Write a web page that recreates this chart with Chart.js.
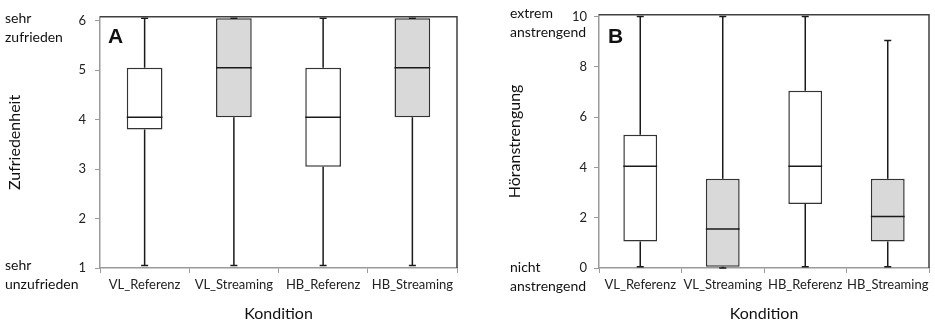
<!DOCTYPE html>
<html>
<head>
<meta charset="utf-8">
<script src="https://cdn.jsdelivr.net/npm/chart.js@4.4.1/dist/chart.umd.min.js"></script>
<style>
  body { margin: 0; background: #fff; }
  #wrap { position: relative; width: 935px; height: 326px; font-family: Lato, "Open Sans", sans-serif; color: #111; }
  .panel { position: absolute; top: 0; height: 326px; }
  .note { position: absolute; font-size: 14px; line-height: 19px; white-space: nowrap; }
  .letter { position: absolute; font-family: "Liberation Sans", Arial, sans-serif; font-weight: bold; font-size: 21px; line-height: 21px; }
</style>
</head>
<body>
<div id="wrap">
  <div class="panel" style="left:0;width:470px"><canvas id="chartA" width="470" height="326"></canvas></div>
  <div class="panel" style="left:470px;width:465px"><canvas id="chartB" width="465" height="326"></canvas></div>
  <div class="note" style="left:5px;top:8px">sehr<br>zufrieden</div>
  <div class="note" style="left:5px;top:255px">sehr<br>unzufrieden</div>
  <div class="note" style="left:510px;top:3px">extrem<br>anstrengend</div>
  <div class="note" style="left:510px;top:257px">nicht<br>anstrengend</div>
  <div class="letter" style="left:108px;top:25px">A</div>
  <div class="letter" style="left:608px;top:25px">B</div>
</div>
<script>
// Daten
const categories = ['VL_Referenz', 'VL_Streaming', 'HB_Referenz', 'HB_Streaming'];

// A: Zufriedenheit
const zufMin    = [1.05, 1.05, 1.05, 1.05];
const zufQ1     = [3.8, 4.05, 3.05, 4.05];
const zufMedian = [4.05, 5.05, 4.05, 5.05];
const zufQ3     = [5.05, 6.05, 5.05, 6.05];
const zufMax    = [6.05, 6.05, 6.05, 6.05];
const zufTicks  = [1, 2, 3, 4, 5, 6];

// B: Höranstrengung
const hoerMin    = [0.05, 0.0, 0.05, 0.05];
const hoerQ1     = [1.05, 0.05, 2.55, 1.05];
const hoerMedian = [4.05, 1.55, 4.05, 2.05];
const hoerQ3     = [5.3, 3.55, 7.05, 3.55];
const hoerMax    = [10.0, 10.0, 10.0, 9.05];
const hoerTicks  = [0, 2, 4, 6, 8, 10];

const boxFills = ['#ffffff', '#d9d9d9', '#ffffff', '#d9d9d9'];
const tickFont = { family: 'Lato', size: 13 };
const titleFont = { family: 'Lato', size: 16 };

// Whisker, Median und Rahmen
const boxPlugin = {
    id: 'boxWhiskers',
    afterDatasetsDraw(chart) {
        const stats = chart.options.plugins.boxWhiskers;
        const x = chart.scales.x;
        const y = chart.scales.y;
        const meta = chart.getDatasetMeta(0);
        const ctx = chart.ctx;
        ctx.save();
        ctx.strokeStyle = '#1a1a1a';
        ctx.lineWidth = 1.5;
        meta.data.forEach((bar, i) => {
            const cx = x.getPixelForValue(i);
            const half = bar.width / 2;
            const yMin = y.getPixelForValue(stats.min[i]);
            const yMax = y.getPixelForValue(stats.max[i]);
            const yQ1 = y.getPixelForValue(stats.q1[i]);
            const yQ3 = y.getPixelForValue(stats.q3[i]);
            const yMed = y.getPixelForValue(stats.median[i]);
            ctx.beginPath();
            ctx.moveTo(cx, yQ3); ctx.lineTo(cx, yMax);
            ctx.moveTo(cx, yQ1); ctx.lineTo(cx, yMin);
            ctx.moveTo(cx - 3.5, yMax); ctx.lineTo(cx + 3.5, yMax);
            ctx.moveTo(cx - 3.5, yMin); ctx.lineTo(cx + 3.5, yMin);
            ctx.moveTo(cx - half, yMed); ctx.lineTo(cx + half, yMed);
            ctx.stroke();
        });
        // oberer und rechter Rand
        const a = chart.chartArea;
        ctx.strokeStyle = '#404040';
        ctx.lineWidth = 1.5;
        ctx.beginPath();
        ctx.moveTo(a.left, a.top); ctx.lineTo(a.right, a.top); ctx.lineTo(a.right, a.bottom);
        ctx.stroke();
        ctx.restore();
    }
};

function makeBoxChart(id, s) {
    const ctx = document.getElementById(id).getContext('2d');
    return new Chart(ctx, {
        type: 'bar',
        data: {
            labels: categories,
            datasets: [{
                data: s.q1.map((v, i) => [v, s.q3[i]]),
                backgroundColor: boxFills,
                borderColor: '#333333',
                borderWidth: 1.5,
                borderSkipped: false,
                barPercentage: s.barPct,
                categoryPercentage: 1,
                clip: false
            }]
        },
        options: {
            responsive: false,
            animation: false,
            devicePixelRatio: 1,
            layout: { padding: { top: 14, right: s.padRight, left: 0, bottom: 0 } },
            plugins: {
                legend: { display: false },
                tooltip: { enabled: false },
                boxWhiskers: s
            },
            scales: {
                x: {
                    grid: { drawOnChartArea: false, tickLength: 5, color: '#9a9a9a' },
                    border: { color: '#9a9a9a', width: 1.5 },
                    ticks: { font: tickFont, color: '#222', padding: 4, maxRotation: 0, autoSkip: false },
                    title: { display: true, text: 'Kondition', font: titleFont, color: '#111', padding: { top: 0, bottom: 3 } },
                    afterFit: (scale) => { scale.height = 58; }
                },
                y: {
                    min: s.yMin,
                    max: s.yMax,
                    afterBuildTicks: (scale) => { scale.ticks = s.ticks.map(v => ({ value: v })); },
                    grid: { drawOnChartArea: false, tickLength: 5, color: '#9a9a9a' },
                    border: { color: '#9a9a9a', width: 1.5 },
                    ticks: { font: tickFont, color: '#222', padding: s.tickPad },
                    title: { display: true, text: s.title, font: titleFont, color: '#111', padding: { top: s.titlePad, bottom: 0 } },
                    afterFit: (scale) => { scale.width = s.axisWidth; }
                }
            }
        },
        plugins: [boxPlugin]
    });
}

makeBoxChart('chartA', {
    min: zufMin, q1: zufQ1, median: zufMedian, q3: zufQ3, max: zufMax,
    ticks: zufTicks, yMin: 1, yMax: 6.08, title: 'Zufriedenheit',
    axisWidth: 100, titlePad: 5, tickPad: 9, padRight: 13, barPct: 0.4
});

makeBoxChart('chartB', {
    min: hoerMin, q1: hoerQ1, median: hoerMedian, q3: hoerQ3, max: hoerMax,
    ticks: hoerTicks, yMin: 0, yMax: 10.07, title: 'Höranstrengung',
    axisWidth: 129, titlePad: 35, tickPad: 7, padRight: 6, barPct: 0.41
});
</script>
</body>
</html>
